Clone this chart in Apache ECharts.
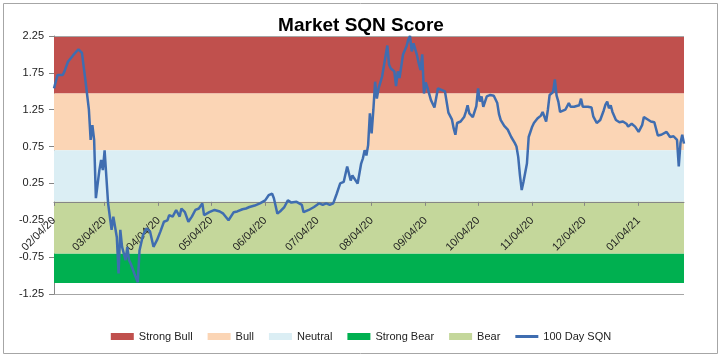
<!DOCTYPE html>
<html><head><meta charset="utf-8">
<script src="https://cdn.jsdelivr.net/npm/echarts@6/dist/echarts.min.js"></script>
<style>html,body{margin:0;padding:0;background:#fff}#c{width:722px;height:359px}</style>
</head><body><div id="c"></div>
<script>
// x = days since 2020-02-04 (trading-day samples), y = 100 Day SQN
const START = Date.UTC(2020, 1, 4);
const DAY = 86400000;
const LAST_DAY = 361;
const dayOffsets = [0,2,3,5,6,8,11,14,16,18,20,21,22,23,24,26,27,28,29,31,33,34,36,37,38,39,41,42,43,44,46,48,49,51,53,55,57,59,61,63,65,66,68,70,72,73,75,77,79,81,83,85,86,89,92,95,97,100,103,105,108,110,112,115,118,121,123,125,126,128,130,132,134,136,139,142,143,146,149,150,152,154,156,158,160,162,164,166,168,169,170,171,172,174,176,177,178,179,180,181,182,183,184,185,186,188,189,191,192,193,195,196,197,198,200,202,203,204,205,206,208,209,210,211,212,213,214,216,218,219,220,222,223,224,226,228,229,230,231,233,235,236,237,238,240,242,243,244,245,246,248,250,252,254,255,256,258,260,262,264,265,266,267,268,269,270,271,272,274,275,277,279,280,282,283,284,285,286,287,288,289,290,293,295,296,298,301,302,303,306,308,309,311,313,315,316,317,318,319,320,322,324,326,328,329,331,333,335,337,338,340,342,344,346,348,351,353,355,356,357,358,359,360,361];
const sqnValues = [1.54,1.72,1.70,1.72,1.77,1.90,1.99,2.07,2.02,1.65,1.25,0.84,1.04,0.84,0.05,0.43,0.57,0.43,0.70,-0.02,-0.38,-0.20,-0.48,-0.97,-0.38,-0.61,-0.79,-0.61,-0.79,-0.84,-0.97,-1.09,-0.66,-0.45,-0.36,-0.40,-0.61,-0.52,-0.40,-0.27,-0.25,-0.18,-0.20,-0.11,-0.20,-0.09,-0.14,-0.27,-0.20,-0.11,-0.09,-0.02,-0.18,-0.14,-0.11,-0.13,-0.16,-0.25,-0.14,-0.13,-0.10,-0.09,-0.07,-0.05,-0.02,0.02,0.09,0.11,0.05,-0.16,-0.12,-0.07,0.02,-0.01,0.00,-0.04,-0.14,-0.11,-0.07,-0.05,-0.02,-0.04,-0.02,-0.04,-0.02,0.11,0.25,0.27,0.48,0.50,0.29,0.36,0.32,0.25,0.52,0.59,0.70,0.63,0.77,1.20,0.93,1.25,1.63,1.40,1.54,1.70,1.68,2.12,1.86,1.81,1.77,1.57,1.77,1.68,2.00,2.11,2.20,2.25,2.04,2.15,1.99,1.88,1.79,2.00,1.47,1.62,1.55,1.38,1.28,1.28,1.54,1.52,1.53,1.50,1.21,1.12,1.00,0.91,1.07,1.09,1.15,1.22,1.31,1.20,1.15,1.30,1.54,1.36,1.43,1.29,1.43,1.45,1.44,1.34,1.19,1.11,1.03,0.98,0.88,0.80,0.75,0.61,0.36,0.16,0.27,0.25,0.52,0.88,1.02,1.07,1.13,1.17,1.22,1.09,1.25,1.45,1.45,1.49,1.66,1.44,1.36,1.22,1.25,1.34,1.29,1.29,1.31,1.40,1.29,1.29,1.28,1.16,1.07,1.11,1.24,1.32,1.36,1.27,1.31,1.22,1.11,1.08,1.09,1.06,1.02,1.06,1.02,0.95,1.04,1.15,1.12,1.09,1.08,0.90,0.91,0.95,0.88,0.89,0.91,0.84,0.48,0.80,0.91,0.79];
const tickDates = ['2020-02-04','2020-03-04','2020-04-04','2020-05-04','2020-06-04','2020-07-04','2020-08-04','2020-09-04','2020-10-04','2020-11-04','2020-12-04','2021-01-04'];
const yTicks = [-1.25,-0.75,-0.25,0.25,0.75,1.25,1.75,2.25];
const bandNames = ['Strong Bull','Bull','Neutral','Strong Bear','Bear'];
const bandLow  = [1.47, 0.70, 0.00, -1.10, -0.70];
const bandHigh = [2.235, 1.47, 0.70, -0.70, 0.00];
const bandColors = ['#C0504D','#FBD5B5','#DBEEF4','#00B050','#C4D79B'];
const lineName = '100 Day SQN';
const lineColor = '#3F6DB0';

const Y_MIN = -1.25, Y_MAX = 2.25;
const GRID_TOP = 36, GRID_BOTTOM = 65, CHART_H = 359;
const plotH = CHART_H - GRID_TOP - GRID_BOTTOM;
// x axis crosses the value axis at zero: shift it up from the grid bottom
const zeroShift = -plotH * (0 - Y_MIN) / (Y_MAX - Y_MIN);

const tickOffsets = tickDates.map(d => Math.round((Date.parse(d) - START) / DAY));
const pad = n => (n < 10 ? '0' : '') + n;
const fmt = off => { const d = new Date(START + off * DAY); return pad(d.getUTCMonth()+1) + '/' + pad(d.getUTCDate()) + '/' + pad(d.getUTCFullYear() % 100); };

const bandSeries = bandNames.map((n, i) => ({
  name: n, type: 'line', data: [], z: 1, silent: true,
  itemStyle: { color: bandColors[i] }, lineStyle: { color: bandColors[i] },
  markArea: { silent: true, itemStyle: { color: bandColors[i], opacity: 1 },
    data: [[{ yAxis: bandLow[i] }, { yAxis: bandHigh[i] }]] }
}));

const chart = echarts.init(document.getElementById('c'), null, { renderer: 'canvas' });
chart.setOption({
  animation: false,
  backgroundColor: '#fff',
  graphic: [{ type: 'rect', shape: { x: 3.5, y: 3.5, width: 714, height: 350 },
    style: { fill: 'none', stroke: '#A6A6A6', lineWidth: 1 }, z: 0 }],
  title: { text: 'Market SQN Score', left: 'center', top: 11,
    textStyle: { fontFamily: 'Liberation Sans', fontSize: 19, fontWeight: 'bold', color: '#000' } },
  legend: {
    top: 326, left: 'center', itemWidth: 23, itemHeight: 7, itemGap: 15,
    textStyle: { fontFamily: 'Liberation Sans', fontSize: 11, color: '#222' },
    data: bandNames.map(n => ({ name: n, icon: 'rect' })).concat([{ name: lineName, icon: 'path://M0,0h10v1.3h-10z' }])
  },
  grid: { left: 54, right: 38, top: GRID_TOP, bottom: GRID_BOTTOM, containLabel: false },
  xAxis: {
    type: 'value', min: 0, max: LAST_DAY, z: 3, position: 'bottom', offset: zeroShift,
    axisLine: { onZero: false, lineStyle: { color: '#868686', width: 1 } },
    axisTick: { show: true, customValues: tickOffsets, length: 4, lineStyle: { color: '#868686' } },
    axisLabel: { customValues: tickOffsets, rotate: 45, margin: 17, formatter: v => fmt(v),
      fontFamily: 'Liberation Sans', fontSize: 11, color: '#222' },
    splitLine: { show: false }
  },
  yAxis: {
    type: 'value', min: Y_MIN, max: Y_MAX,
    axisLine: { show: true, onZero: false, lineStyle: { color: '#868686' } },
    axisTick: { show: true, customValues: yTicks, length: 5, lineStyle: { color: '#868686' } },
    axisLabel: { customValues: yTicks, formatter: v => v.toFixed(2), margin: 10,
      fontFamily: 'Liberation Sans', fontSize: 11, color: '#222' },
    splitLine: { show: true, lineStyle: { color: '#A6A6A6' } }
  },
  series: bandSeries.concat([{
    name: lineName, type: 'line', z: 4, showSymbol: false, symbol: 'none',
    lineStyle: { color: lineColor, width: 2.5 }, itemStyle: { color: lineColor },
    data: dayOffsets.map((d, i) => [d, sqnValues[i]])
  }])
});
</script></body></html>
